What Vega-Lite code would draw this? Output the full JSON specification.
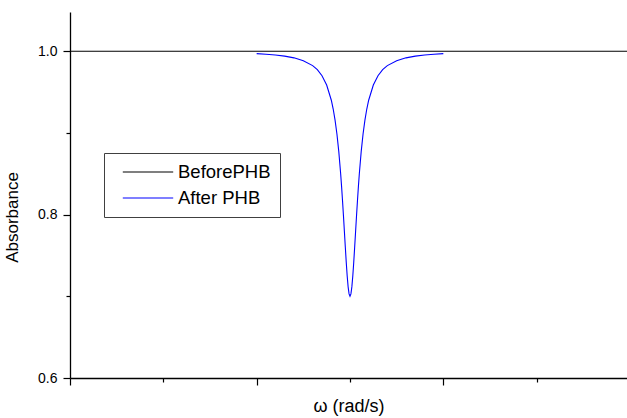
{
  "$schema": "https://vega.github.io/schema/vega-lite/v6.json",
  "width": 557,
  "height": 366,
  "autosize": {"type": "none"},
  "padding": {"left": 70, "top": 12, "right": 0, "bottom": 40},
  "config": {
    "font": "Liberation Sans",
    "view": {"stroke": null},
    "axis": {
      "domainColor": "black",
      "tickColor": "black",
      "labelColor": "black",
      "titleColor": "black",
      "grid": false,
      "labelFontSize": 14,
      "titleFontSize": 17,
      "titleFontWeight": "normal",
      "domainWidth": 1.3,
      "tickWidth": 1.2
    }
  },
  "data": {
    "values": [
      {"series": "BeforePHB", "omega": 0, "absorbance": 1.0},
      {"series": "BeforePHB", "omega": 5.968, "absorbance": 1.0},
      {"series": "After PHB", "omega": 2.0, "absorbance": 0.99703},
      {"series": "After PHB", "omega": 2.1, "absorbance": 0.99634},
      {"series": "After PHB", "omega": 2.2, "absorbance": 0.99538},
      {"series": "After PHB", "omega": 2.3, "absorbance": 0.994},
      {"series": "After PHB", "omega": 2.4, "absorbance": 0.99189},
      {"series": "After PHB", "omega": 2.5, "absorbance": 0.98846},
      {"series": "After PHB", "omega": 2.6, "absorbance": 0.98235},
      {"series": "After PHB", "omega": 2.65, "absorbance": 0.97736},
      {"series": "After PHB", "omega": 2.7, "absorbance": 0.97},
      {"series": "After PHB", "omega": 2.75, "absorbance": 0.95862},
      {"series": "After PHB", "omega": 2.8, "absorbance": 0.94},
      {"series": "After PHB", "omega": 2.82, "absorbance": 0.92925},
      {"series": "After PHB", "omega": 2.84, "absorbance": 0.91573},
      {"series": "After PHB", "omega": 2.86, "absorbance": 0.89865},
      {"series": "After PHB", "omega": 2.88, "absorbance": 0.87705},
      {"series": "After PHB", "omega": 2.9, "absorbance": 0.85},
      {"series": "After PHB", "omega": 2.91, "absorbance": 0.83425},
      {"series": "After PHB", "omega": 2.92, "absorbance": 0.81707},
      {"series": "After PHB", "omega": 2.93, "absorbance": 0.79866},
      {"series": "After PHB", "omega": 2.94, "absorbance": 0.77941},
      {"series": "After PHB", "omega": 2.95, "absorbance": 0.76},
      {"series": "After PHB", "omega": 2.96, "absorbance": 0.74138},
      {"series": "After PHB", "omega": 2.97, "absorbance": 0.72477},
      {"series": "After PHB", "omega": 2.98, "absorbance": 0.71154},
      {"series": "After PHB", "omega": 2.99, "absorbance": 0.70297},
      {"series": "After PHB", "omega": 3.0, "absorbance": 0.7},
      {"series": "After PHB", "omega": 3.01, "absorbance": 0.70297},
      {"series": "After PHB", "omega": 3.02, "absorbance": 0.71154},
      {"series": "After PHB", "omega": 3.03, "absorbance": 0.72477},
      {"series": "After PHB", "omega": 3.04, "absorbance": 0.74138},
      {"series": "After PHB", "omega": 3.05, "absorbance": 0.76},
      {"series": "After PHB", "omega": 3.06, "absorbance": 0.77941},
      {"series": "After PHB", "omega": 3.07, "absorbance": 0.79866},
      {"series": "After PHB", "omega": 3.08, "absorbance": 0.81707},
      {"series": "After PHB", "omega": 3.09, "absorbance": 0.83425},
      {"series": "After PHB", "omega": 3.1, "absorbance": 0.85},
      {"series": "After PHB", "omega": 3.12, "absorbance": 0.87705},
      {"series": "After PHB", "omega": 3.14, "absorbance": 0.89865},
      {"series": "After PHB", "omega": 3.16, "absorbance": 0.91573},
      {"series": "After PHB", "omega": 3.18, "absorbance": 0.92925},
      {"series": "After PHB", "omega": 3.2, "absorbance": 0.94},
      {"series": "After PHB", "omega": 3.25, "absorbance": 0.95862},
      {"series": "After PHB", "omega": 3.3, "absorbance": 0.97},
      {"series": "After PHB", "omega": 3.35, "absorbance": 0.97736},
      {"series": "After PHB", "omega": 3.4, "absorbance": 0.98235},
      {"series": "After PHB", "omega": 3.5, "absorbance": 0.98846},
      {"series": "After PHB", "omega": 3.6, "absorbance": 0.99189},
      {"series": "After PHB", "omega": 3.7, "absorbance": 0.994},
      {"series": "After PHB", "omega": 3.8, "absorbance": 0.99538},
      {"series": "After PHB", "omega": 3.9, "absorbance": 0.99634},
      {"series": "After PHB", "omega": 4.0, "absorbance": 0.99703}
    ]
  },
  "layer": [
    {
      "mark": {"type": "line", "strokeWidth": 1.1, "clip": true},
      "encoding": {
        "x": {
          "field": "omega",
          "type": "quantitative",
          "scale": {"domain": [0, 5.968], "nice": false, "zero": false},
          "axis": {"orient": "bottom", "values": [0, 2, 4], "tickSize": 7, "labels": false, "title": "ω (rad/s)", "titleFontSize": 18, "titlePadding": 12}
        },
        "y": {
          "field": "absorbance",
          "type": "quantitative",
          "scale": {"domain": [0.6, 1.048], "nice": false, "zero": false},
          "axis": {"orient": "left", "values": [0.6, 0.8, 1.0], "format": ".1f", "tickSize": 7, "labelPadding": 6, "title": "Absorbance", "titlePadding": 16, "titleY": 205}
        },
        "color": {
          "field": "series",
          "type": "nominal",
          "scale": {"domain": ["BeforePHB", "After PHB"], "range": ["#000000", "#0000ff"]},
          "legend": {
            "title": null,
            "orient": "none",
            "legendX": 34,
            "legendY": 141,
            "strokeColor": "#404040",
            "fillColor": "white",
            "padding": 9,
            "symbolType": "M-2.8,0H2.8",
            "symbolSize": 324,
            "symbolStrokeWidth": 1.1,
            "symbolOffset": 25,
            "labelOffset": 20,
            "labelFontSize": 18.5,
            "labelColor": "black",
            "rowPadding": 6
          }
        }
      }
    },
    {
      "mark": {"type": "line", "strokeOpacity": 0},
      "encoding": {
        "x": {
          "field": "omega",
          "type": "quantitative",
          "scale": {"domain": [0, 5.968], "nice": false, "zero": false},
          "axis": {"orient": "bottom", "values": [1, 3, 5], "tickSize": 4, "labels": false, "title": null, "domain": false}
        },
        "y": {
          "field": "absorbance",
          "type": "quantitative",
          "scale": {"domain": [0.6, 1.048], "nice": false, "zero": false},
          "axis": {"orient": "left", "values": [0.7, 0.9], "tickSize": 4, "labels": false, "title": null, "domain": false}
        },
        "detail": {"field": "series", "type": "nominal"}
      }
    }
  ],
  "resolve": {"axis": {"x": "independent", "y": "independent"}}
}
